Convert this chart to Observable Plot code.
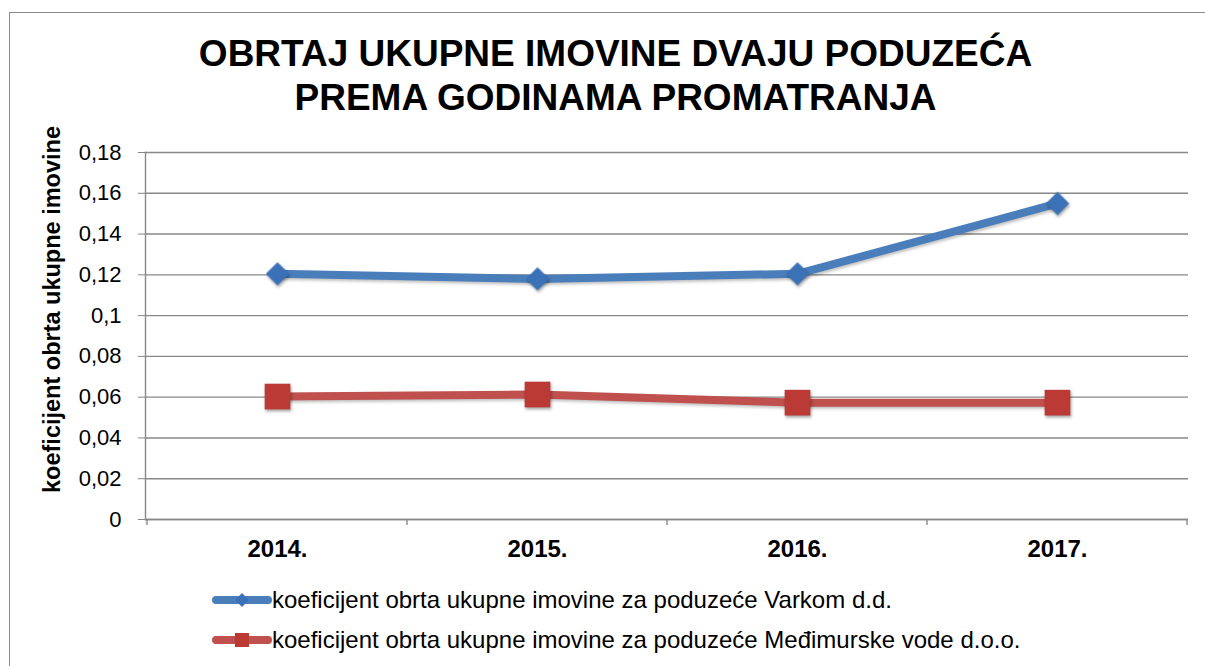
<!DOCTYPE html>
<html>
<head>
<meta charset="utf-8">
<script src="https://cdn.jsdelivr.net/npm/d3@7"></script>
<script src="https://cdn.jsdelivr.net/npm/@observablehq/plot@0.6"></script>
<style>
  html, body { margin: 0; padding: 0; background: #fff; }
  #wrap { position: relative; width: 1205px; height: 666px; overflow: hidden; font-family: "Liberation Sans", Arial, sans-serif; }
  #border { position: absolute; left: 9px; top: 12px; width: 1210px; height: 700px; border: 1.5px solid #8a8a8a; box-sizing: border-box; }
  #title { position: relative; height: 115px; box-sizing: border-box; padding-top: 32px; padding-left: 26px; text-align: center; font-weight: bold; font-size: 37px; line-height: 44px; color: #000; white-space: nowrap; }
  #chart { position: relative; height: 455px; }
  #legend { position: relative; height: 96px; box-sizing: border-box; padding-top: 10px; padding-left: 210px; font-size: 24px; color: #000; white-space: nowrap; }
  .row { display: flex; align-items: center; height: 40px; }
  .row svg { display: block; }
  svg g[aria-label="dot"] { filter: drop-shadow(1px 2px 1.5px rgba(0,0,0,0.35)); }
  svg g[aria-label="line"] { filter: drop-shadow(1px 2px 1.5px rgba(0,0,0,0.25)); }
</style>
</head>
<body>
<div id="wrap">
  <div id="border"></div>
  <div id="title"></div>
  <div id="chart"></div>
  <div id="legend"></div>
</div>
<script>
const titleLines = ["OBRTAJ UKUPNE IMOVINE DVAJU PODUZEĆA", "PREMA GODINAMA PROMATRANJA"];
const yLabel = "koeficijent obrta ukupne imovine";
const years = ["2014.", "2015.", "2016.", "2017."];
const seriesNames = [
  "koeficijent obrta ukupne imovine za poduzeće Varkom d.d.",
  "koeficijent obrta ukupne imovine za poduzeće Međimurske vode d.o.o."
];
const varkom = [0.1205, 0.118, 0.1205, 0.155];
const medjimurske = [0.0603, 0.0613, 0.0573, 0.0573];
const yTicks = [0, 0.02, 0.04, 0.06, 0.08, 0.1, 0.12, 0.14, 0.16, 0.18];
const colors = ["#4A7EBB", "#C0504D"];
const markerFill = ["#3B71B6", "#BC3A36"];
const symbols = ["diamond2", "square"];

const rows = [];
[varkom, medjimurske].forEach((vals, s) => {
  vals.forEach((v, i) => rows.push({series: seriesNames[s], year: years[i], value: v}));
});

document.getElementById("title").innerHTML = titleLines.join("<br>");

const fmt = d => String(+d.toFixed(2)).replace(".", ",");
const grid = "#888888";

const plot = Plot.plot({
  width: 1205,
  height: 455,
  marginLeft: 145,
  marginRight: 17,
  marginTop: 37,
  marginBottom: 51,
  style: {fontFamily: "'Liberation Sans', Arial, sans-serif", background: "transparent", color: "#000"},
  x: {type: "band", domain: years, padding: 0},
  y: {domain: [0, 0.18]},
  color: {domain: seriesNames, range: colors},
  marks: [
    Plot.gridY(yTicks, {stroke: grid, strokeOpacity: 1, strokeWidth: 1.4}),
    Plot.frame({anchor: "left", stroke: grid, strokeWidth: 1.4}),
    Plot.ruleY([0], {stroke: grid, strokeWidth: 1.4}),
    Plot.axisY(yTicks, {tickSize: 7, tickPadding: 17, tickFormat: fmt, fontSize: 22, label: null, stroke: grid, fill: "#000"}),
    Plot.axisX({tickSize: 0, tickPadding: 20, fontSize: 24, fontWeight: "bold", label: null, fill: "#000"}),
    Plot.text([yLabel], {frameAnchor: "left", textAnchor: "middle", lineAnchor: "middle", text: d => d, rotate: -90, dx: -93.5, dy: -26.5, fontSize: 23.5, fontWeight: "bold", fill: "#000"}),
    Plot.line(rows, {x: "year", y: "value", z: "series", stroke: "series", strokeWidth: 8, strokeLinecap: "round", strokeLinejoin: "round"}),
    Plot.dot(rows.filter(d => d.series === seriesNames[0]), {x: "year", y: "value", symbol: () => symbols[0], r: 10.5, fill: markerFill[0], stroke: "none"}),
    Plot.dot(rows.filter(d => d.series === seriesNames[1]), {x: "year", y: "value", symbol: () => symbols[1], r: 14.5, fill: markerFill[1], stroke: "none"})
  ]
});

// category boundary ticks on the x axis, positioned with the plot's own band scale
const xs = plot.scale("x");
const ys = plot.scale("y");
const y0 = ys.apply(0);
const bounds = years.map(y => xs.apply(y)).concat([xs.apply(years[years.length - 1]) + xs.bandwidth]);
d3.select(plot).append("g").selectAll("line").data(bounds).join("line")
  .attr("x1", d => d).attr("x2", d => d).attr("y1", y0).attr("y2", y0 + 6)
  .attr("stroke", grid).attr("stroke-width", 1.4);

document.getElementById("chart").appendChild(plot);

// legend
const legend = document.getElementById("legend");
seriesNames.forEach((name, i) => {
  const row = document.createElement("div");
  row.className = "row";
  const sw = d3.create("svg").attr("width", 62).attr("height", 24);
  sw.append("line").attr("x1", 6).attr("x2", 58).attr("y1", 12).attr("y2", 12)
    .attr("stroke", colors[i]).attr("stroke-width", 8).attr("stroke-linecap", "round");
  if (i === 0) {
    sw.append("path").attr("d", "M32,5 L39,12 L32,19 L25,12 Z").attr("fill", markerFill[0]);
  } else {
    sw.append("rect").attr("x", 25).attr("y", 5).attr("width", 14).attr("height", 14).attr("fill", markerFill[1]);
  }
  row.appendChild(sw.node());
  const t = document.createElement("span");
  t.textContent = name;
  row.appendChild(t);
  legend.appendChild(row);
});
</script>
</body>
</html>
